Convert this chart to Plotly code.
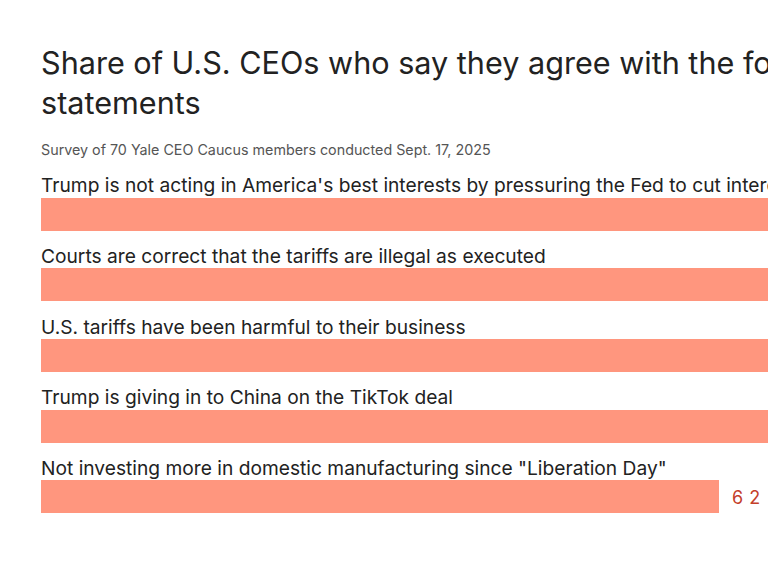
import plotly.graph_objects as go

categories = [
    "Trump is not acting in America's best interests by pressuring the Fed to cut interest rates",
    "Courts are correct that the tariffs are illegal as executed",
    "U.S. tariffs have been harmful to their business",
    "Trump is giving in to China on the TikTok deal",
    "Not investing more in domestic manufacturing since \"Liberation Day\"",
]
values = [81, 74, 71, 68, 62]
title_lines = ["Share of U.S. CEOs who say they agree with the following", "statements"]
subtitle = "Survey of 70 Yale CEO Caucus members conducted Sept. 17, 2025"

W, H = 768, 576
ML, MR, MT, MB = 41, 0, 179, 44
FONT = "Inter, Roboto, sans-serif"

def py(p):
    return (H - MB - p) / (H - MT - MB)

fig = go.Figure()
fig.add_trace(go.Bar(
    x=values, y=list(range(len(categories))), orientation="h",
    marker=dict(color="#ff967e", line=dict(width=0)),
    width=0.468, hoverinfo="skip",
))

ann = []
for i, (c, v) in enumerate(zip(categories, values)):
    ann.append(dict(x=0, y=i, xref="x", yref="y", text=c, showarrow=False,
                    xanchor="left", yanchor="middle", yshift=29, xshift=-2,
                    font=dict(size=19.2, color="#222222", family=FONT)))
    ann.append(dict(x=v, y=i, xref="x", yref="y",
                    text=f"<span style='letter-spacing:6px'>{v}</span>",
                    showarrow=False, xanchor="left", yanchor="middle", xshift=11, yshift=-1,
                    font=dict(size=18, color="#c4402a", family=FONT)))
for j, (line, top) in enumerate(zip(title_lines, [42, 82])):
    ann.append(dict(x=0, y=py(top), xref="paper", yref="paper", xanchor="left", yanchor="top",
                    text=line, showarrow=False, align="left", xshift=-2,
                    font=dict(size=30.6, color="#222222", family=FONT)))
ann.append(dict(x=0, y=py(139), xref="paper", yref="paper", xanchor="left", yanchor="top",
                text=subtitle, showarrow=False, align="left", xshift=-2,
                font=dict(size=14.3, color="#555555", family=FONT)))

fig.update_layout(
    width=W, height=H, margin=dict(l=ML, r=MR, t=MT, b=MB),
    paper_bgcolor="white", plot_bgcolor="white",
    showlegend=False, annotations=ann,
    xaxis=dict(range=[0, (W - ML) * 62 / (719 - ML)], visible=False, fixedrange=True),
    yaxis=dict(range=[4.5, -0.5], visible=False, fixedrange=True),
    bargap=0,
)
fig.write_html("out.html", config={"displayModeBar": False},
               post_script="document.body.style.margin='0';document.body.style.overflow='hidden';")
